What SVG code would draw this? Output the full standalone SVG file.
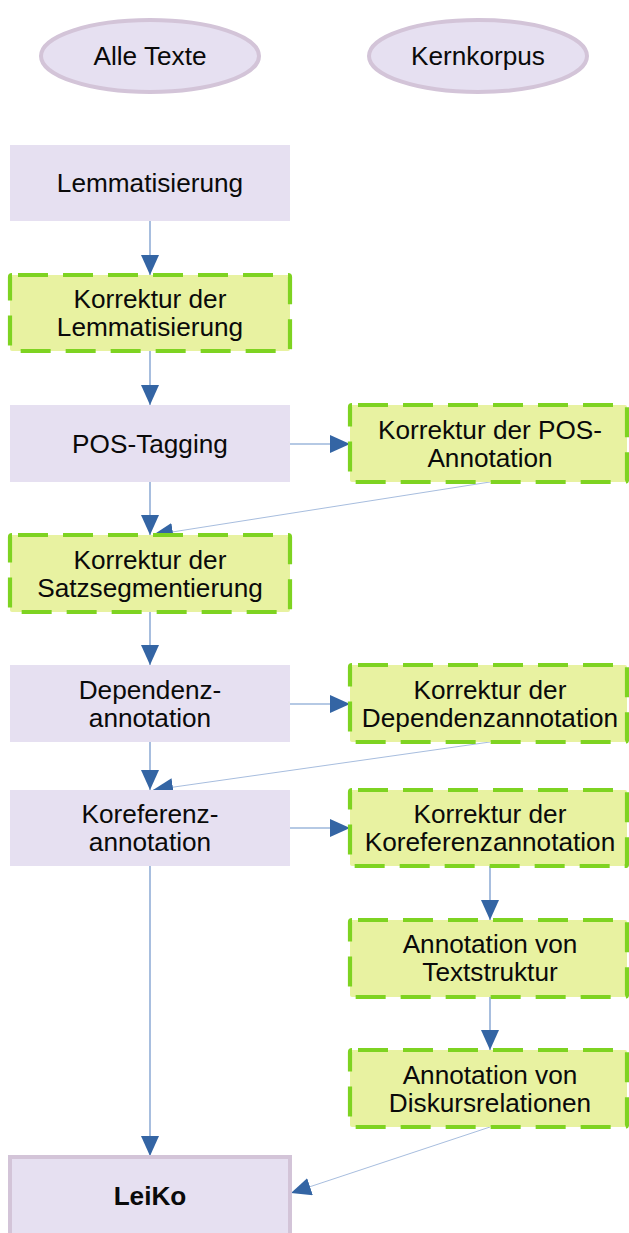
<svg xmlns="http://www.w3.org/2000/svg" width="629" height="1233" viewBox="0 0 629 1233">
<style>
.t{font-family:"Liberation Sans",Arial,sans-serif;font-size:26.2px;fill:#0a0a0a;text-anchor:middle}
.b{font-weight:bold}
.lav{fill:#e6e0f1}
.grn{fill:#e8f2a1;stroke:#7ed321;stroke-width:4.2;stroke-dasharray:30 15;stroke-dashoffset:39}
.ell{fill:#e6e0f1;stroke:#d3c4d8;stroke-width:4}
.leiko{fill:#e6e0f1;stroke:#d3c4d8;stroke-width:4}
.c{stroke:#6d93c9;stroke-width:1.2;fill:none;marker-end:url(#ah)}
.d{stroke:#9db5da;stroke-width:0.9;fill:none;marker-end:url(#ah)}
</style>
<defs>
<marker id="ah" viewBox="0 0 20 18" refX="20" refY="9" markerWidth="20" markerHeight="18" markerUnits="userSpaceOnUse" orient="auto">
<path d="M0,0 L20,9 L0,18 z" fill="#3465a4"/>
</marker>
</defs>
<rect width="629" height="1233" fill="#ffffff"/>
<g id="alle_texte"><ellipse class="ell" cx="150" cy="56" rx="109" ry="36"/><text class="t" x="150" y="65">Alle Texte</text></g>
<g id="kernkorpus"><ellipse class="ell" cx="478" cy="56" rx="109" ry="36"/><text class="t" x="478" y="65">Kernkorpus</text></g>
<g id="connectors">
<line class="c" x1="150" y1="221" x2="150" y2="275"/>
<line class="c" x1="150" y1="351" x2="150" y2="405"/>
<line class="c" x1="150" y1="482" x2="150" y2="535"/>
<line class="c" x1="290" y1="444" x2="350" y2="444"/>
<line class="d" x1="490" y1="482" x2="153" y2="535"/>
<line class="c" x1="150" y1="612" x2="150" y2="665"/>
<line class="c" x1="290" y1="704" x2="350" y2="704"/>
<line class="c" x1="150" y1="742" x2="150" y2="790"/>
<line class="d" x1="490" y1="742" x2="153" y2="790"/>
<line class="c" x1="290" y1="828" x2="350" y2="828"/>
<line class="c" x1="490" y1="866" x2="490" y2="920"/>
<line class="c" x1="490" y1="997" x2="490" y2="1050"/>
<line class="c" x1="150" y1="866" x2="150" y2="1156"/>
<line class="d" x1="490" y1="1127" x2="291" y2="1193"/>
</g>
<g id="lemmatisierung"><rect class="lav" x="10" y="145" width="280" height="76"/><text class="t" x="150" y="192">Lemmatisierung</text></g>
<g id="korrektur_lemma"><rect class="grn" x="10" y="275" width="280" height="76" rx="2"/><text class="t" x="150" y="308">Korrektur der</text><text class="t" x="150" y="336">Lemmatisierung</text></g>
<g id="pos_tagging"><rect class="lav" x="10" y="405" width="280" height="77"/><text class="t" x="150" y="453">POS-Tagging</text></g>
<g id="korrektur_pos"><rect class="grn" x="350" y="405" width="277" height="77" rx="2"/><text class="t" x="490" y="439">Korrektur der POS-</text><text class="t" x="490" y="467">Annotation</text></g>
<g id="korrektur_satz"><rect class="grn" x="10" y="535" width="280" height="77" rx="2"/><text class="t" x="150" y="569">Korrektur der</text><text class="t" x="150" y="597">Satzsegmentierung</text></g>
<g id="dependenz"><rect class="lav" x="10" y="665" width="280" height="77"/><text class="t" x="150" y="699">Dependenz-</text><text class="t" x="150" y="727">annotation</text></g>
<g id="korrektur_dep"><rect class="grn" x="350" y="665" width="277" height="77" rx="2"/><text class="t" x="490" y="699">Korrektur der</text><text class="t" x="490" y="727">Dependenzannotation</text></g>
<g id="koreferenz"><rect class="lav" x="10" y="790" width="280" height="76"/><text class="t" x="150" y="823">Koreferenz-</text><text class="t" x="150" y="851">annotation</text></g>
<g id="korrektur_koref"><rect class="grn" x="350" y="790" width="277" height="76" rx="2"/><text class="t" x="490" y="823">Korrektur der</text><text class="t" x="490" y="851">Koreferenzannotation</text></g>
<g id="textstruktur"><rect class="grn" x="350" y="920" width="277" height="77" rx="2"/><text class="t" x="490" y="953">Annotation von</text><text class="t" x="490" y="981">Textstruktur</text></g>
<g id="diskurs"><rect class="grn" x="350" y="1050" width="277" height="77" rx="2"/><text class="t" x="490" y="1084">Annotation von</text><text class="t" x="490" y="1112">Diskursrelationen</text></g>
<g id="leiko"><rect class="leiko" x="10" y="1157" width="280" height="78"/><text class="t b" x="150" y="1205">LeiKo</text></g>
</svg>
